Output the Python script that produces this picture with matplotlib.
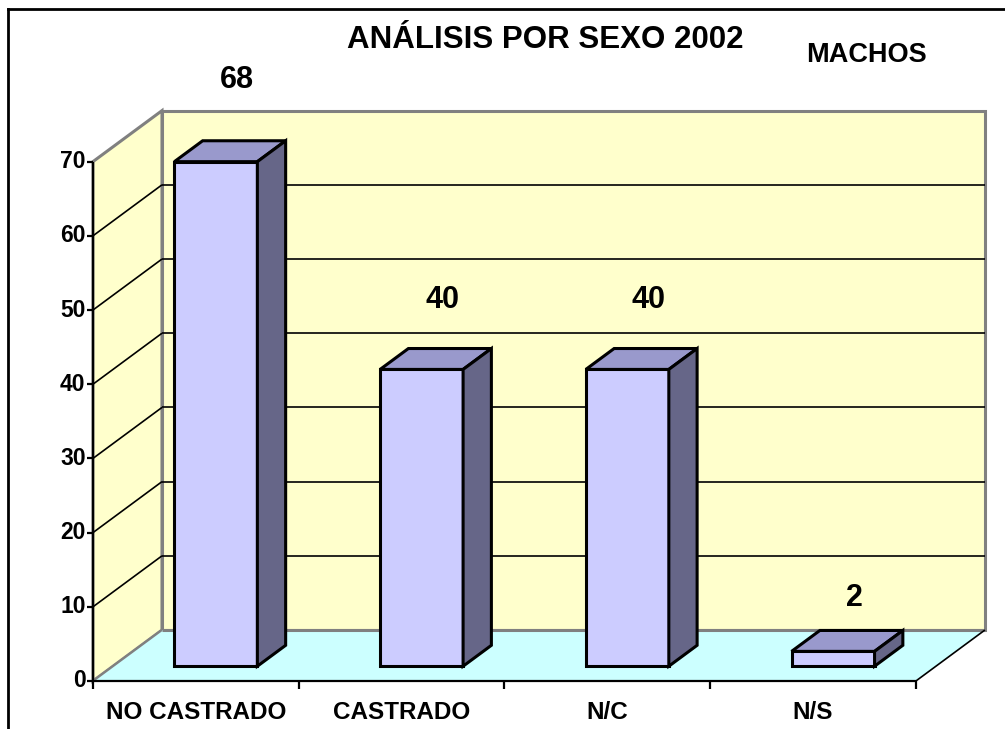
import numpy as np
import matplotlib.pyplot as plt
from matplotlib.patches import Polygon

# data
categories = ['NO CASTRADO', 'CASTRADO', 'N/C', 'N/S']
values = [68, 40, 40, 2]
yticks = [0, 10, 20, 30, 40, 50, 60, 70]

plt.rcParams['font.family'] = ['Liberation Sans', 'DejaVu Sans']
plt.rcParams['font.weight'] = 'bold'

# fake 3d box: depth direction in data units
DX, DY = 0.3354, 6.87
D0, D1 = 0.29, 0.70      # bar front / back as fraction of depth
HW = 0.2017              # half bar width
YMAX = yticks[-1]
n = len(categories)
x0, x1 = -0.5, n - 0.5


def p(x, y, d):
    return (x + d * DX, y + d * DY)


def poly(ax, pts, fc, ec='black', lw=2.2, z=1):
    ax.add_patch(Polygon(pts, closed=True, facecolor=fc, edgecolor=ec,
                         linewidth=lw, joinstyle='miter', zorder=z))


def line(ax, a, b, c='black', lw=1.0, z=2):
    ax.plot([a[0], b[0]], [a[1], b[1]], color=c, lw=lw, zorder=z,
            solid_capstyle='butt')


fig = plt.figure(figsize=(10.05, 7.29), dpi=100)
ax = fig.add_axes([0, 0, 1, 1])
ax.set_xlim(-0.952, 3.933)
ax.set_ylim(-6.47, 91.78)
ax.axis('off')

# walls and floor
poly(ax, [p(x0, 0, 1), p(x1, 0, 1), p(x1, YMAX, 1), p(x0, YMAX, 1)],
     '#FFFFCC', ec='#808080', lw=2.2, z=1)
poly(ax, [p(x0, 0, 0), p(x0, 0, 1), p(x0, YMAX, 1), p(x0, YMAX, 0)],
     '#FFFFCC', ec='#808080', lw=2.2, z=1)
poly(ax, [p(x0, 0, 0), p(x1, 0, 0), p(x1, 0, 1), p(x0, 0, 1)],
     '#CCFFFF', ec='none', lw=0, z=1.5)
line(ax, p(x0, 0, 1), p(x1, 0, 1), c='#808080', lw=2.2, z=1.6)
line(ax, p(x0, 0, 0), p(x0, 0, 1), c='#808080', lw=1.5, z=1.6)
line(ax, p(x1, 0, 0), p(x1, 0, 1), c='black', lw=1.2, z=1.6)

# gridlines
for v in yticks[1:-1]:
    line(ax, p(x0, v, 1), p(x1, v, 1), lw=1.2)
    line(ax, p(x0, v, 0), p(x0, v, 1), lw=1.2)

# axes
line(ax, p(x0, 0, 0), p(x0, YMAX, 0), lw=1.6, z=3)
line(ax, p(x0, 0, 0), p(x1, 0, 0), lw=1.6, z=3)
for v in yticks:
    line(ax, (x0 - 0.03, v), (x0, v), lw=1.6, z=3)
    ax.text(x0 - 0.036, v, str(v), ha='right', va='center', fontsize=16.5)
for i in range(n + 1):
    line(ax, (x0 + i, 0), (x0 + i, -1.1), lw=1.6, z=3)
for i, c in enumerate(categories):
    ax.text(i, -4.2, c, ha='center', va='center', fontsize=17.5)

# bars
for i, v in enumerate(values):
    xl, xr = i - HW, i + HW
    poly(ax, [p(xl, 0, D0), p(xr, 0, D0), p(xr, v, D0), p(xl, v, D0)],
         '#CCCCFF', z=4)
    poly(ax, [p(xl, v, D0), p(xr, v, D0), p(xr, v, D1), p(xl, v, D1)],
         '#9999CC', z=4)
    poly(ax, [p(xr, 0, D0), p(xr, 0, D1), p(xr, v, D1), p(xr, v, D0)],
         '#666688', z=4)
    lx, ly = p(i, v * 1.057 + 5.0, 0.6)
    ax.text(lx, ly, str(v), ha='center', va='center', fontsize=22, zorder=5)

fig.text(545 / 1005, 1 - 40 / 729, 'ANÁLISIS POR SEXO 2002',
         ha='center', va='center', fontsize=22.5)
fig.text(866 / 1005, 1 - 55 / 729, 'MACHOS', ha='center', va='center',
         fontsize=19.5)

# outer frame (only left and top visible)
fig.add_artist(plt.Line2D([8 / 1005, 8 / 1005], [0, 1 - 8.5 / 729],
                          color='black', lw=2, transform=fig.transFigure))
fig.add_artist(plt.Line2D([8 / 1005, 1], [1 - 8.5 / 729, 1 - 8.5 / 729],
                          color='black', lw=2, transform=fig.transFigure))

fig.savefig('out.png', dpi=100)
